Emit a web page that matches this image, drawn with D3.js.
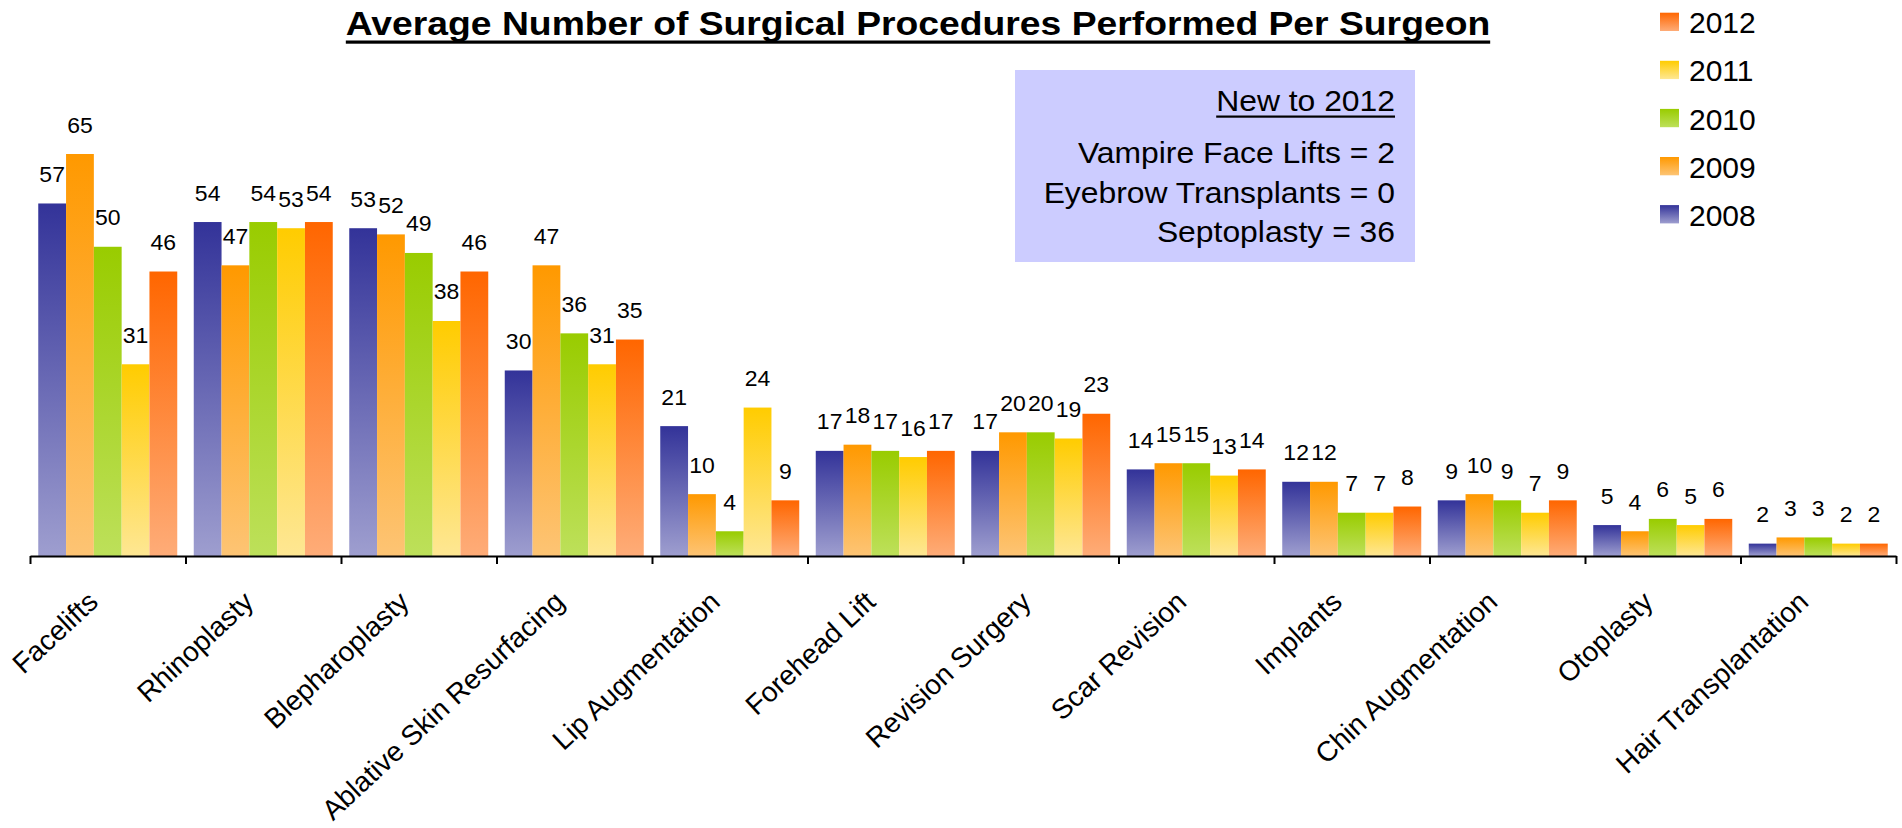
<!DOCTYPE html>
<html>
<head>
<meta charset="utf-8">
<script src="https://cdn.jsdelivr.net/npm/d3@7"></script>
<style>
    body { margin: 0; background: #fff; }
    text { font-family: "Liberation Sans", Arial, sans-serif; fill: #000; }
</style>
</head>
<body>
<div id="wrapper"></div>
<script>
const categories = ["Facelifts", "Rhinoplasty", "Blepharoplasty", "Ablative Skin Resurfacing",
    "Lip Augmentation", "Forehead Lift", "Revision Surgery", "Scar Revision", "Implants",
    "Chin Augmentation", "Otoplasty", "Hair Transplantation"];
const years = ["2008", "2009", "2010", "2011", "2012"];
const values2008 = [57, 54, 53, 30, 21, 17, 17, 14, 12, 9, 5, 2];
const values2009 = [65, 47, 52, 47, 10, 18, 20, 15, 12, 10, 4, 3];
const values2010 = [50, 54, 49, 36, 4, 17, 20, 15, 7, 9, 6, 3];
const values2011 = [31, 53, 38, 31, 24, 16, 19, 13, 7, 7, 5, 2];
const values2012 = [46, 54, 46, 35, 9, 17, 23, 14, 8, 9, 6, 2];
const titleText = "Average Number of Surgical Procedures Performed Per Surgeon";
const noteTitle = "New to 2012";
const noteLines = ["Vampire Face Lifts = 2", "Eyebrow Transplants = 0", "Septoplasty = 36"];

const series = [values2008, values2009, values2010, values2011, values2012];

const topColor = {"2008": "#333399", "2009": "#ff9900", "2010": "#99cc00", "2011": "#ffcc00", "2012": "#ff6600"};
const bottomColor = {"2008": "#9e9ecf", "2009": "#fdc474", "2010": "#bde05a", "2011": "#fee793", "2012": "#feac78"};

const width = 1902, height = 828;
const svg = d3.select("#wrapper").append("svg")
    .attr("width", width)
    .attr("height", height);

const defs = svg.append("defs");
years.forEach(yr => {
    const g = defs.append("linearGradient")
        .attr("id", "grad" + yr)
        .attr("x1", 0).attr("y1", 0).attr("x2", 0).attr("y2", 1);
    g.append("stop").attr("offset", "0%").attr("stop-color", topColor[yr]);
    g.append("stop").attr("offset", "100%").attr("stop-color", bottomColor[yr]);
});

// scales
const x0 = d3.scaleBand().domain(categories).range([30, 1896]);
const x1 = d3.scaleBand().domain(years).range([8.25, 147.25]);
const y = d3.scaleLinear().domain([0, 65]).range([556, 154]);

var data = [];
categories.forEach((c, i) => {
    years.forEach((yr, j) => {
        data.push({cat: c, year: yr, value: series[j][i]});
    });
});

const bars = svg.append("g");
bars.selectAll("rect")
    .data(data)
    .enter()
    .append("rect")
    .attr("x", d => x0(d.cat) + x1(d.year))
    .attr("y", d => y(d.value))
    .attr("width", x1.bandwidth())
    .attr("height", d => y(0) - y(d.value))
    .attr("fill", d => "url(#grad" + d.year + ")");

// value labels (source image is a little stretched sideways)
svg.append("g")
    .selectAll("text")
    .data(data)
    .enter()
    .append("text")
    .attr("transform", d => `translate(${x0(d.cat) + x1(d.year) + x1.bandwidth() / 2},${y(d.value) - 21.5}) scale(1.07,1)`)
    .attr("text-anchor", "middle")
    .style("font-size", "21.5px")
    .text(d => d3.format(".0f")(d.value));

// axis with ticks between categories
const tickScale = d3.scaleLinear().domain([0, categories.length]).range([30, 1896]);
const axis = svg.append("g")
    .attr("transform", "translate(0,556)")
    .call(d3.axisBottom(tickScale)
        .tickValues(d3.range(categories.length + 1))
        .tickSize(8)
        .tickSizeOuter(0)
        .tickFormat(""));
axis.select(".domain").attr("stroke", "#000").attr("stroke-width", 2);
axis.selectAll(".tick line").attr("stroke", "#000").attr("stroke-width", 2);

svg.append("g")
    .selectAll("text")
    .data(categories)
    .enter()
    .append("text")
    .attr("transform", d => `translate(${x0(d) + x0.bandwidth() / 2 - 8},604) rotate(-43)`)
    .attr("text-anchor", "end")
    .style("font-size", "28px")
    .text(d => d);

// title
const title = svg.append("text")
    .attr("transform", "translate(918,35) scale(1.13,1)")
    .attr("text-anchor", "middle")
    .style("font-size", "33px")
    .style("font-weight", "bold")
    .text(titleText);
const tw = title.node().getComputedTextLength() * 1.13;
svg.append("rect")
    .attr("x", 918 - tw / 2).attr("y", 40.5)
    .attr("width", tw).attr("height", 3.2)
    .attr("fill", "#000");

// note box
svg.append("rect")
    .attr("x", 1015).attr("y", 70)
    .attr("width", 400).attr("height", 192)
    .attr("fill", "#ccccff");
const noteG = svg.append("g").attr("transform", "translate(1395,0) scale(1.08,1)");
const nt = noteG.append("text")
    .attr("x", 0).attr("y", 111.5)
    .attr("text-anchor", "end")
    .style("font-size", "29.5px")
    .text(noteTitle);
const ntw = nt.node().getComputedTextLength() * 1.08;
svg.append("rect")
    .attr("x", 1395 - ntw).attr("y", 115.5)
    .attr("width", ntw).attr("height", 2.2)
    .attr("fill", "#000");
noteG.append("g")
    .selectAll("text")
    .data(noteLines)
    .enter()
    .append("text")
    .attr("x", 0)
    .attr("y", (d, i) => [163.3, 203.3, 241.7][i])
    .attr("text-anchor", "end")
    .style("font-size", "29.5px")
    .text(d => d);

// legend
const legendOrder = years.slice().reverse();
const legend = svg.append("g")
    .selectAll("g")
    .data(legendOrder)
    .enter()
    .append("g")
    .attr("transform", (d, i) => `translate(1660,${12.7 + i * 48.1})`);
legend.append("rect")
    .attr("width", 19).attr("height", 18.3)
    .attr("fill", d => "url(#grad" + d + ")");
legend.append("text")
    .attr("x", 29).attr("y", 20.6)
    .style("font-size", "30px")
    .text(d => d);
</script>
</body>
</html>
